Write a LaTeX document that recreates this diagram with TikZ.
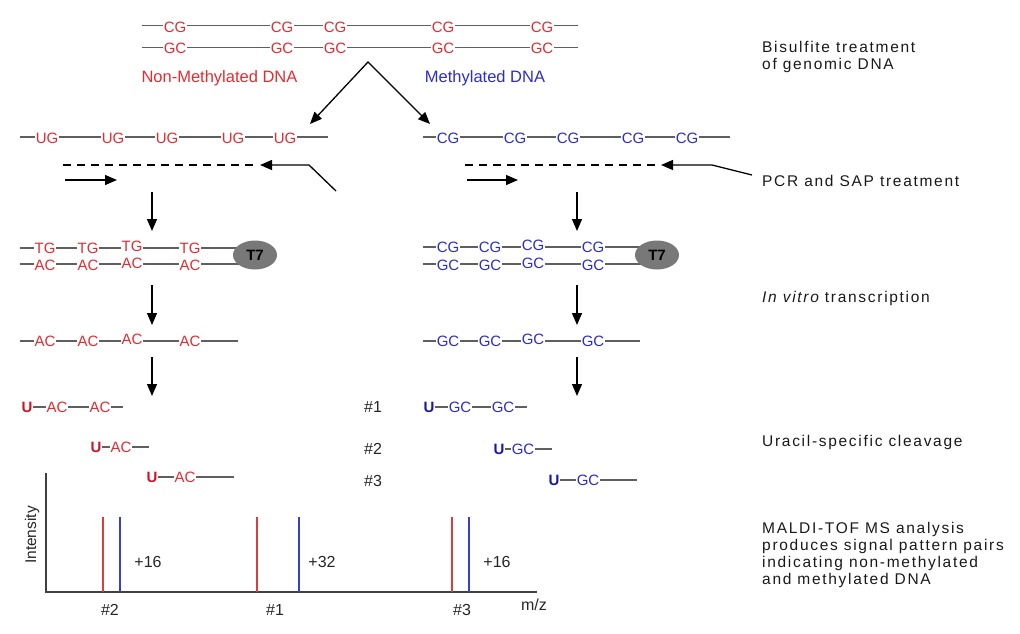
\documentclass[tikz,border=0pt]{standalone}
\usepackage{fontspec}
\setmainfont{Liberation Sans}
\newfontfamily\rfont[LetterSpace=11]{Liberation Sans}
\usetikzlibrary{arrows.meta,shapes.geometric}
\definecolor{dnared}{RGB}{225,45,50}
\definecolor{dnablue}{RGB}{45,45,200}
\definecolor{ured}{RGB}{205,20,40}
\definecolor{ublue}{RGB}{25,25,165}
\definecolor{strand}{RGB}{95,95,95}
\definecolor{t7gray}{RGB}{120,120,120}
\definecolor{peakred}{RGB}{220,60,60}
\definecolor{peakblue}{RGB}{60,60,200}
\begin{document}
\begin{tikzpicture}[x=1pt,y=-1pt,
  >={Triangle[length=12pt,width=10pt]},
  strandline/.style={draw=strand, line width=1.2pt},
  base/.style={fill=white, inner sep=0.4pt, font=\fontsize{15}{15}\selectfont},
  redb/.style={base, text=dnared},
  blueb/.style={base, text=dnablue},
  ured/.style={inner sep=0.4pt, text=ured, font=\bfseries\fontsize{15}{15}\selectfont},
  ublue/.style={inner sep=0.4pt, text=ublue, font=\bfseries\fontsize{15}{15}\selectfont},
  arr/.style={->, line width=1.3pt, black},
  primer/.style={line width=1.2pt, black, dash pattern=on 8pt off 6pt},
  t7/.style={ellipse, fill=t7gray, minimum width=44pt, minimum height=29pt, inner sep=0pt, font=\bfseries\fontsize{15}{15}\selectfont},
  rtext/.style={anchor=west, align=left, inner sep=0pt, text=black!90, font=\rfont\fontsize{15.5}{17}\selectfont},
  plotlbl/.style={inner sep=0pt, font=\fontsize{16}{16}\selectfont},
  peakr/.style={draw=peakred, line width=1.1pt},
  peakb/.style={draw=peakblue, line width=1.1pt}
]
\useasboundingbox (0,0) rectangle (1020,633);

% ---------- genomic DNA ----------
\coordinate (g1s) at (142,25.7); \coordinate (g1e) at (578,25.7);
\coordinate (g2s) at (142,47.7); \coordinate (g2e) at (578,47.7);
\draw[strandline] (g1s) -- (g1e);
\draw[strandline] (g2s) -- (g2e);
\foreach \x [count=\i] in {175,282,335,443,542}{
  \node[redb] (gt\i) at (\x,27) {CG};
  \node[redb] (gb\i) at (\x,48) {GC};
}
\node[text=dnared, inner sep=0pt, font=\fontsize{16.5}{16.5}\selectfont] (nonm) at (219.5,78) {Non-Methylated DNA};
\node[text=dnablue, inner sep=0pt, font=\fontsize{16.5}{16.5}\selectfont] (meth) at (485,78) {Methylated DNA};

% ---------- bisulfite arrows ----------
\coordinate (apex) at (368,62);
\coordinate (vl) at (310,124);
\coordinate (vr) at (430,124);
\draw[arr, <->] (vl) -- (apex) -- (vr);

% ---------- bisulfite converted strands ----------
\coordinate (u1s) at (20,137); \coordinate (u1e) at (328,137);
\draw[strandline] (u1s) -- (u1e);
\foreach \x [count=\i] in {47,113,167,233,285}{
  \node[redb] (ug\i) at (\x,138) {UG};
}
\coordinate (c1s) at (423,137); \coordinate (c1e) at (730,137);
\draw[strandline] (c1s) -- (c1e);
\foreach \x [count=\i] in {448,515,568,633,687}{
  \node[blueb] (cg\i) at (\x,138) {CG};
}

% ---------- primers ----------
\coordinate (dl1) at (63,165); \coordinate (dl2) at (255,165);
\draw[primer] (dl1) -- (dl2);
\coordinate (rpl0) at (336,191); \coordinate (rpl1) at (309,165); \coordinate (rpl2) at (260,165);
\draw[arr] (rpl0) -- (rpl1) -- (rpl2);
\coordinate (fpl1) at (65,180); \coordinate (fpl2) at (117,180);
\draw[arr] (fpl1) -- (fpl2);

\coordinate (dr1) at (465,165); \coordinate (dr2) at (656,165);
\draw[primer] (dr1) -- (dr2);
\coordinate (rpr0) at (752,175); \coordinate (rpr1) at (712,165); \coordinate (rpr2) at (661,165);
\draw[arr] (rpr0) -- (rpr1) -- (rpr2);
\coordinate (fpr1) at (467,180); \coordinate (fpr2) at (518,180);
\draw[arr] (fpr1) -- (fpr2);

% ---------- down arrows ----------
\foreach \x/\s in {152/L,577/R}{
  \coordinate (a1\s s) at (\x,192); \coordinate (a1\s e) at (\x,231);
  \coordinate (a2\s s) at (\x,285); \coordinate (a2\s e) at (\x,325);
  \coordinate (a3\s s) at (\x,357); \coordinate (a3\s e) at (\x,396);
  \draw[arr] (a1\s s) -- (a1\s e);
  \draw[arr] (a2\s s) -- (a2\s e);
  \draw[arr] (a3\s s) -- (a3\s e);
}

% ---------- PCR products with T7 ----------
\coordinate (p1s) at (20,248); \coordinate (p1e) at (250,248);
\coordinate (p2s) at (20,264); \coordinate (p2e) at (250,264);
\draw[strandline] (p1s) -- (p1e);
\draw[strandline] (p2s) -- (p2e);
\foreach \x/\dy [count=\i] in {45/0,88/0,132/-2,190/0}{
  \node[redb] (tg\i) at (\x,248+\dy) {TG};
  \node[redb] (ac\i) at (\x,265+\dy) {AC};
}
\node[t7] (t7l) at (255,255) {T7};

\coordinate (q1s) at (423,247); \coordinate (q1e) at (652,247);
\coordinate (q2s) at (423,264); \coordinate (q2e) at (652,264);
\draw[strandline] (q1s) -- (q1e);
\draw[strandline] (q2s) -- (q2e);
\foreach \x/\dy [count=\i] in {448/0,490/0,533/-2,593/0}{
  \node[blueb] (pcg\i) at (\x,247+\dy) {CG};
  \node[blueb] (pgc\i) at (\x,265+\dy) {GC};
}
\node[t7] (t7r) at (657,255) {T7};

% ---------- transcripts ----------
\coordinate (r1s) at (20,341); \coordinate (r1e) at (238,341);
\draw[strandline] (r1s) -- (r1e);
\foreach \x/\dy [count=\i] in {45/0,88/0,132/-2,190/0}{
  \node[redb] (rac\i) at (\x,341+\dy) {AC};
}
\coordinate (s1s) at (423,341); \coordinate (s1e) at (640,341);
\draw[strandline] (s1s) -- (s1e);
\foreach \x/\dy [count=\i] in {448/0,490/0,533/-2,593/0}{
  \node[blueb] (sgc\i) at (\x,341+\dy) {GC};
}

% ---------- cleavage products ----------
\node[ured] (lu1) at (27,407) {U};
\coordinate (lu1e) at (123,407);
\draw[strandline] (lu1.east) -- (lu1e);
\node[redb] (lac11) at (57,407) {AC};
\node[redb] (lac12) at (100,407) {AC};

\node[ured] (lu2) at (96,447) {U};
\coordinate (lu2e) at (149,447);
\draw[strandline] (lu2.east) -- (lu2e);
\node[redb] (lac21) at (121,447) {AC};

\node[ured] (lu3) at (152,477) {U};
\coordinate (lu3e) at (234,477);
\draw[strandline] (lu3.east) -- (lu3e);
\node[redb] (lac31) at (185,477) {AC};

\node[ublue] (ru1) at (429,407) {U};
\coordinate (ru1e) at (527,407);
\draw[strandline] (ru1.east) -- (ru1e);
\node[blueb] (rgc11) at (460,407) {GC};
\node[blueb] (rgc12) at (503,407) {GC};

\node[ublue] (ru2) at (499,449) {U};
\coordinate (ru2e) at (552,449);
\draw[strandline] (ru2.east) -- (ru2e);
\node[blueb] (rgc21) at (523,449) {GC};

\node[ublue] (ru3) at (554,480) {U};
\coordinate (ru3e) at (637,480);
\draw[strandline] (ru3.east) -- (ru3e);
\node[blueb] (rgc31) at (588,480) {GC};

\node[plotlbl, text=black!85] (n1) at (373,407) {\#1};
\node[plotlbl, text=black!85] (n2) at (373,449) {\#2};
\node[plotlbl, text=black!85] (n3) at (373,481) {\#3};

% ---------- mass spectrum ----------
\coordinate (ytop) at (46,473);
\coordinate (orig) at (46,592);
\coordinate (xend) at (537,592);
\draw[line width=1.2pt, black!75] (ytop) -- (orig) -- (xend);
\foreach \x [count=\i] in {103,257,452}{
  \coordinate (pr\i t) at (\x,517); \coordinate (pr\i b) at (\x,592);
  \draw[peakr] (pr\i t) -- (pr\i b);
}
\foreach \x [count=\i] in {120,299,469}{
  \coordinate (pb\i t) at (\x,517); \coordinate (pb\i b) at (\x,592);
  \draw[peakb] (pb\i t) -- (pb\i b);
}
\node[plotlbl, text=black!85] (d1) at (148,562) {+16};
\node[plotlbl, text=black!85] (d2) at (322,562) {+32};
\node[plotlbl, text=black!85] (d3) at (497,562) {+16};
\node[plotlbl, text=black!85] (x2) at (110,610) {\#2};
\node[plotlbl, text=black!85] (x1) at (275,610) {\#1};
\node[plotlbl, text=black!85] (x3) at (462,610) {\#3};
\node[plotlbl, text=black!85] (mz) at (534,605) {m/z};
\node[inner sep=0pt, text=black!85, rotate=90, font=\fontsize{15.5}{15.5}\selectfont] (inty) at (32,535) {Intensity};

% ---------- step descriptions ----------
\node[rtext] (s1) at (762,57) {Bisulfite treatment\\of genomic DNA};
\node[rtext] (s2) at (762,181) {PCR and SAP treatment};
\node[rtext] (s3) at (762,298) {{\itshape In vitro} transcription};
\node[rtext] (s4) at (762,442) {Uracil-specific cleavage};
\node[rtext] (s5) at (762,555) {MALDI-TOF MS analysis\\produces signal pattern pairs\\indicating non-methylated\\and methylated DNA};
\end{tikzpicture}
\end{document}
